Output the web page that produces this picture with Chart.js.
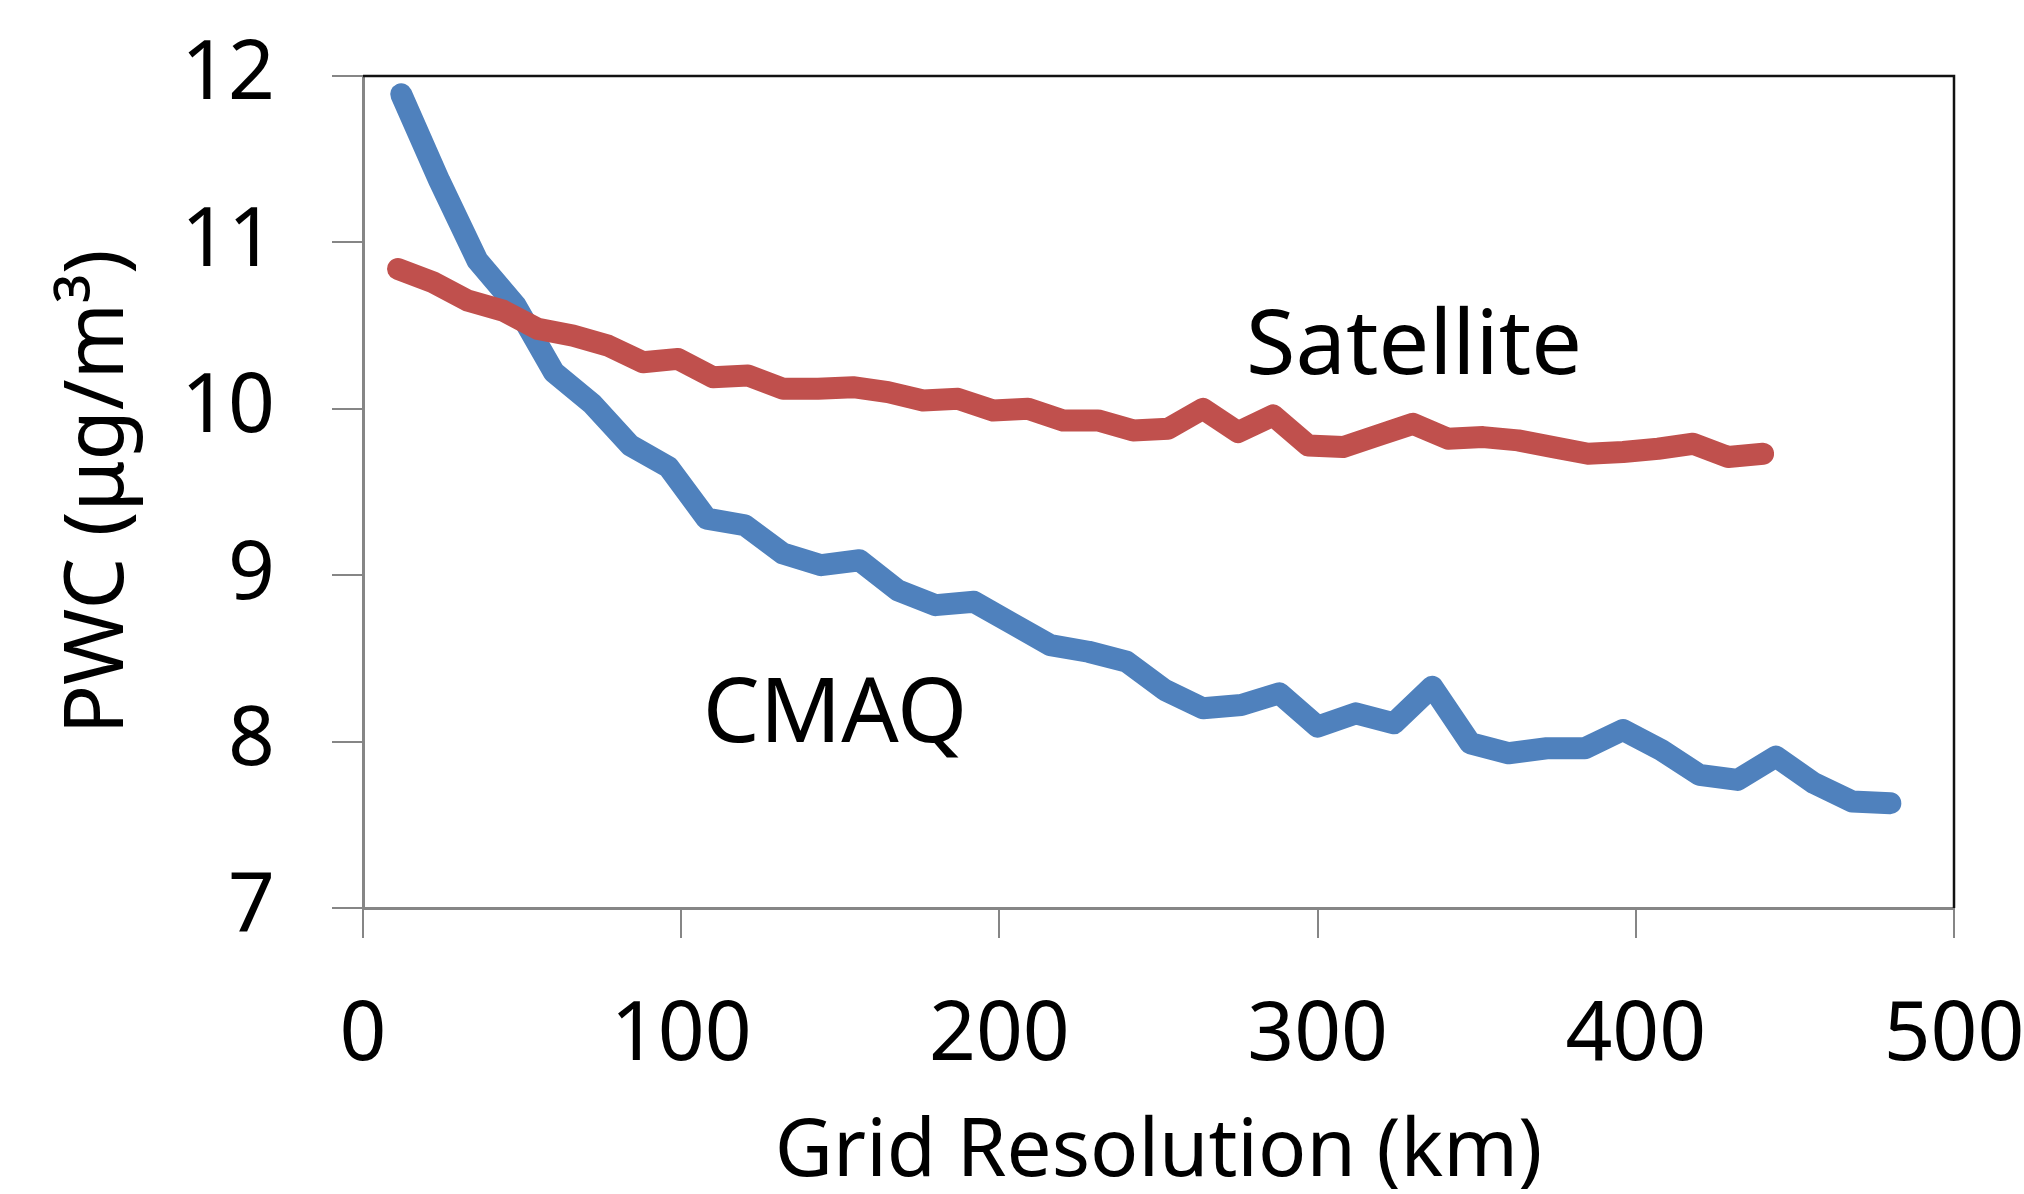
<!DOCTYPE html>
<html>
<head>
<meta charset="utf-8">
<script src="https://cdn.jsdelivr.net/npm/chart.js@4.4.0/dist/chart.umd.min.js"></script>
<style>
  html, body { margin: 0; padding: 0; background: #fff; }
</style>
</head>
<body>
<canvas id="pwcChart" width="2024" height="1194"></canvas>
<script>
// grid resolution (km) and population-weighted concentration
const cmaqKm = [12, 24, 36, 48, 60, 72, 84, 96, 108, 120, 132, 144, 156, 168, 180, 192, 204, 216, 228, 240,
  252, 264, 276, 288, 300, 312, 324, 336, 348, 360, 372, 384, 396, 408, 420, 432, 444, 456, 468, 480];
const cmaqPwc = [11.89, 11.37, 10.89, 10.62, 10.22, 10.03, 9.78, 9.65, 9.34, 9.30, 9.13, 9.06, 9.09, 8.91, 8.82, 8.84, 8.71, 8.58, 8.54, 8.48,
  8.31, 8.20, 8.22, 8.29, 8.09, 8.17, 8.11, 8.33, 7.99, 7.93, 7.96, 7.96, 8.07, 7.95, 7.80, 7.77, 7.91, 7.75, 7.64, 7.63];

const satKm = [11, 22, 33, 44, 55, 66, 77, 88, 99, 110, 121, 132, 143, 154, 165, 176, 187, 198, 209, 220,
  231, 242, 253, 264, 275, 286, 297, 308, 319, 330, 341, 352, 363, 374, 385, 396, 407, 418, 429, 440];
const satPwc = [10.84, 10.76, 10.65, 10.59, 10.48, 10.44, 10.38, 10.28, 10.30, 10.19, 10.20, 10.12, 10.12, 10.13, 10.10, 10.05, 10.06, 9.99, 10.00, 9.93,
  9.93, 9.87, 9.88, 10.00, 9.86, 9.96, 9.78, 9.77, 9.84, 9.91, 9.82, 9.83, 9.81, 9.77, 9.73, 9.74, 9.76, 9.79, 9.71, 9.73];

const xTicks = [0, 100, 200, 300, 400, 500];
const yTicks = [7, 8, 9, 10, 11, 12];

// series labels written on the plot, anchored in data units
const seriesLabels = [
  { text: "Satellite", x: 277.5, y: 10.21 },
  { text: "CMAQ", x: 106.8, y: 7.995 }
];

const FONT = "'Noto Sans', 'Open Sans', sans-serif";
const axisGray = "#868686";

const toPoints = (xs, ys) => xs.map((x, i) => ({ x: x, y: ys[i] }));

// keep tick-label overflow from pushing the plot area around
const noOverflow = s => { s.paddingTop = 0; s.paddingBottom = 0; s.paddingLeft = 0; s.paddingRight = 0; };

const frameAndLabels = {
  id: "frameAndLabels",
  afterDatasetsDraw(chart) {
    const { ctx, chartArea: a, scales } = chart;
    ctx.save();
    ctx.strokeStyle = "#111";
    ctx.lineWidth = 2.5;
    ctx.beginPath();
    ctx.moveTo(a.left, a.top);
    ctx.lineTo(a.right, a.top);
    ctx.lineTo(a.right, a.bottom);
    ctx.stroke();

    ctx.fillStyle = "#000";
    ctx.font = "90px " + FONT;
    ctx.textBaseline = "alphabetic";
    ctx.textAlign = "left";
    seriesLabels.forEach(l => {
      ctx.fillText(l.text, scales.x.getPixelForValue(l.x), scales.y.getPixelForValue(l.y));
    });
    ctx.restore();
  }
};

const lineStyle = {
  borderWidth: 22,
  pointRadius: 0,
  borderCapStyle: "round",
  borderJoinStyle: "round",
  tension: 0,
  fill: false
};

new Chart(document.getElementById("pwcChart"), {
  type: "line",
  data: {
    datasets: [
      Object.assign({ label: "Satellite", data: toPoints(satKm, satPwc), borderColor: "#C0504D" }, lineStyle),
      Object.assign({ label: "CMAQ", data: toPoints(cmaqKm, cmaqPwc), borderColor: "#4F81BD" }, lineStyle)
    ]
  },
  options: {
    responsive: false,
    animation: false,
    devicePixelRatio: 1,
    layout: { padding: { top: 76, right: 70, left: 0, bottom: 0 } },
    plugins: { legend: { display: false }, tooltip: { enabled: false } },
    scales: {
      x: {
        type: "linear",
        min: 0,
        max: 500,
        afterBuildTicks: s => { s.ticks = xTicks.map(v => ({ value: v })); },
        afterFit: s => { s.height = 286; noOverflow(s); },
        grid: { drawOnChartArea: false, color: axisGray, lineWidth: 2, tickLength: 30 },
        border: { color: axisGray, width: 3 },
        ticks: { color: "#000", font: { family: FONT, size: 82 }, padding: 49, maxRotation: 0 },
        title: {
          display: true,
          text: "Grid Resolution (km)",
          color: "#000",
          font: { family: FONT, size: 80, lineHeight: 1.0 },
          padding: { top: 0, bottom: 1 }
        }
      },
      y: {
        min: 7,
        max: 12,
        afterBuildTicks: s => { s.ticks = yTicks.map(v => ({ value: v })); },
        afterFit: s => { s.width = 363; noOverflow(s); },
        grid: { drawOnChartArea: false, color: axisGray, lineWidth: 2, tickLength: 31 },
        border: { color: axisGray, width: 3 },
        ticks: { color: "#000", font: { family: FONT, size: 82 }, padding: 57 },
        title: {
          display: true,
          text: "PWC (\u03bcg/m\u00b3)",
          color: "#000",
          font: { family: FONT, size: 82 },
          padding: { top: 50, bottom: 0 }
        }
      }
    }
  },
  plugins: [frameAndLabels]
});
</script>
</body>
</html>
